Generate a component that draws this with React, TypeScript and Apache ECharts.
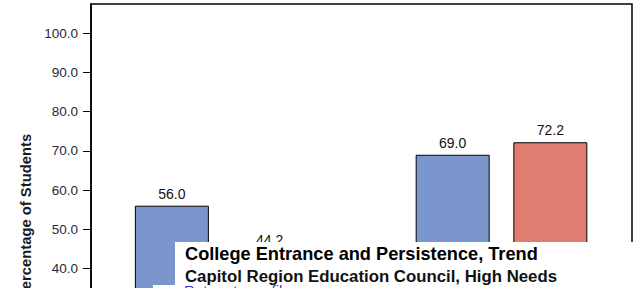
import React, { useEffect, useRef } from 'react';
import * as echarts from 'echarts';

const categories = ['College Entrance', 'College Persistence'];
const seriesNames = ['Cohort 1', 'Cohort 2'];
const blueValues = [56.0, 69.0];
const redValues = [44.2, 72.2];
const yTicks = [0, 10, 20, 30, 40, 50, 60, 70, 80, 90, 100];
const yAxisName = 'Percentage of Students';
const titleText = 'College Entrance and Persistence, Trend';
const subtitleText = 'Capitol Region Education Council, High Needs';
const linkText = 'Return to profile';

const FONT = '"Liberation Sans", Arial, sans-serif';

export default function App() {
  const ref = useRef<HTMLDivElement>(null);
  useEffect(() => {
    if (!ref.current) return;
    const chart = echarts.init(ref.current, undefined, { renderer: 'svg' });
    const yMin = 0;
    const yMax = 107.5;
    const gridTop = 4;
    const gridHeight = 421;
    chart.setOption({
      animation: false,
      grid: [
        {
          left: 80.3, top: gridTop, width: 561.6, height: gridHeight, show: false,
          containLabel: false, outerBoundsMode: 'none',
        },
        {
          left: 91, top: gridTop, width: 541, height: gridHeight, show: true,
          borderColor: '#000', borderWidth: 1.5, backgroundColor: 'transparent',
          containLabel: false, outerBoundsMode: 'none',
        },
      ],
      xAxis: [
        { type: 'category', data: categories, gridIndex: 0, show: false },
        { type: 'category', data: categories, gridIndex: 1, show: false },
      ],
      yAxis: [
        { type: 'value', gridIndex: 0, min: yMin, max: yMax, show: false, splitLine: { show: false } },
        {
          type: 'value', gridIndex: 1, min: yMin, max: yMax,
          axisLine: { show: true, lineStyle: { color: '#000', width: 1.5 } },
          axisTick: { show: true, length: 8, customValues: yTicks, lineStyle: { color: '#000', width: 1 } },
          axisLabel: {
            customValues: yTicks,
            formatter: (v: number) => v.toFixed(1),
            margin: 13, fontSize: 13.5, color: '#1e2a3a', fontFamily: FONT,
          },
          splitLine: { show: false },
          name: yAxisName,
          nameLocation: 'middle',
          nameRotate: 90,
          nameGap: 55,
          nameTextStyle: {
            fontSize: 14.8, fontWeight: 'bold', color: '#1a1a1a', fontFamily: FONT,
            padding: [0, 4, 0, 0],
          },
        },
      ],
      series: [
        {
          name: seriesNames[0], type: 'bar', xAxisIndex: 0, yAxisIndex: 0,
          data: blueValues, barWidth: 74, barGap: '32%',
          itemStyle: { color: '#7b96cc', borderColor: '#000', borderWidth: 1 },
          label: {
            show: true, position: 'top', distance: 5,
            formatter: (p: any) => Number(p.value).toFixed(1),
            fontSize: 14, color: '#111', fontFamily: FONT,
          },
        },
        {
          name: seriesNames[1], type: 'bar', xAxisIndex: 0, yAxisIndex: 0,
          data: redValues, barWidth: 74, barGap: '32%',
          itemStyle: { color: '#e07d70', borderColor: '#000', borderWidth: 1 },
          label: {
            show: true, position: 'top', distance: 5,
            formatter: (p: any) => Number(p.value).toFixed(1),
            fontSize: 14, color: '#111', fontFamily: FONT,
          },
        },
      ],
      graphic: [
        { type: 'rect', z: 100, shape: { x: 175, y: 242, width: 460, height: 46 }, style: { fill: '#fff' } },
        { type: 'rect', z: 100, shape: { x: 153, y: 285, width: 23, height: 3 }, style: { fill: '#fff' } },
        {
          type: 'text', z: 101, x: 185, y: 253.5,
          style: { text: titleText, fontSize: 18.2, fontWeight: 'bold', fontFamily: FONT, fill: '#000', verticalAlign: 'middle' },
        },
        {
          type: 'text', z: 101, x: 185, y: 276,
          style: { text: subtitleText, fontSize: 16.8, fontWeight: 'bold', fontFamily: FONT, fill: '#111', verticalAlign: 'middle' },
        },
        {
          type: 'text', z: 101, x: 184, y: 290.5,
          style: { text: linkText, fontSize: 15, fontFamily: FONT, fill: '#2b3fd6', verticalAlign: 'middle' },
        },
      ],
    });
    return () => chart.dispose();
  }, []);
  return <div ref={ref} style={{ position: 'absolute', left: 0, top: 0, width: 635, height: 288 }} />;
}
